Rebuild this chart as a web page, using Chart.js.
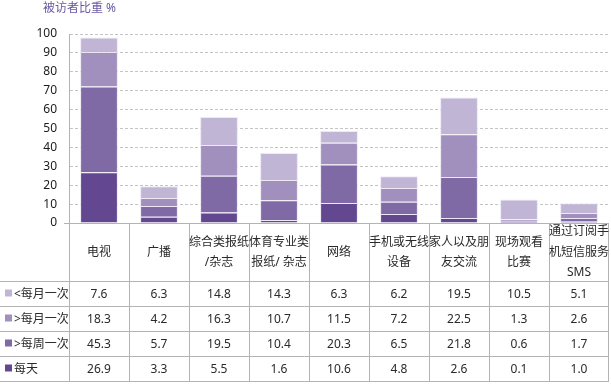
<!DOCTYPE html>
<html>
<head>
<meta charset="utf-8">
<script src="https://cdn.jsdelivr.net/npm/chart.js@4"></script>
<style>
  body { margin: 0; background: #fff; }
  canvas { display: block; }
</style>
</head>
<body>
<canvas id="grafico" width="611" height="384"></canvas>
<script>
// categorias (cada una con sus lineas del encabezado de la tabla)
const categorias = [
    ['电视'],
    ['广播'],
    ['综合类报纸', '/杂志'],
    ['体育专业类', '报纸/ 杂志'],
    ['网络'],
    ['手机或无线', '设备'],
    ['家人以及朋', '友交流'],
    ['现场观看', '比赛'],
    ['通过订阅手', '机短信服务', 'SMS']
];

// series, de abajo hacia arriba en la pila
const nombres = ['每天', '>每周一次', '>每月一次', '<每月一次'];
const cadaDia = [26.9, 3.3, 5.5, 1.6, 10.6, 4.8, 2.6, 0.1, 1.0];
const masSemana = [45.3, 5.7, 19.5, 10.4, 20.3, 6.5, 21.8, 0.6, 1.7];
const masMes = [18.3, 4.2, 16.3, 10.7, 11.5, 7.2, 22.5, 1.3, 2.6];
const menosMes = [7.6, 6.3, 14.8, 14.3, 6.3, 6.2, 19.5, 10.5, 5.1];
const colores = ['#634891', '#7f6aa6', '#a190be', '#c1b5d6'];

const yTicks = [0, 10, 20, 30, 40, 50, 60, 70, 80, 90, 100];
const tituloY = '被访者比重 %';

const fuente = '"Noto Sans", "Noto Sans CJK SC", sans-serif';
const colorLinea = '#b3b3b3';

const series = [cadaDia, masSemana, masMes, menosMes];

// dibuja la tabla de datos debajo del grafico usando la escala x
const tablaPlugin = {
    id: 'tabla',
    afterDraw(chart) {
        const ctx = chart.ctx;
        const x = chart.scales.x;
        const area = chart.chartArea;
        const paso = x.getPixelForValue(1) - x.getPixelForValue(0);
        const top = area.bottom;
        const altoCab = 59;
        const altoFila = 25;
        const bottom = top + altoCab + altoFila * nombres.length;

        ctx.save();
        // titulo del eje
        ctx.fillStyle = '#6b58a3';
        ctx.font = '12px ' + fuente;
        ctx.textAlign = 'left';
        ctx.textBaseline = 'middle';
        ctx.fillText(tituloY, 43, 9);

        ctx.strokeStyle = colorLinea;
        ctx.lineWidth = 1;
        // linea del eje
        ctx.beginPath();
        ctx.moveTo(64, Math.round(top) + 0.5);
        ctx.lineTo(area.right, Math.round(top) + 0.5);
        ctx.stroke();

        // lineas verticales
        ctx.beginPath();
        categorias.forEach((c, i) => {
            const xi = Math.round(x.getPixelForValue(i) - paso / 2) + 0.5;
            ctx.moveTo(xi, top);
            ctx.lineTo(xi, bottom);
        });
        const xr = Math.round(x.getPixelForValue(categorias.length - 1) + paso / 2) - 0.5;
        ctx.moveTo(xr, top);
        ctx.lineTo(xr, bottom);
        // lineas horizontales
        for (let r = 0; r <= nombres.length; r++) {
            const y = Math.round(top + altoCab + r * altoFila) - 0.5;
            ctx.moveTo(0, y);
            ctx.lineTo(xr, y);
        }
        ctx.stroke();

        // encabezados
        ctx.fillStyle = '#2a2a2a';
        ctx.font = '12px ' + fuente;
        ctx.textAlign = 'center';
        const centroCab = top + altoCab / 2;
        categorias.forEach((lineas, i) => {
            const cx = x.getPixelForValue(i);
            const y0 = centroCab - (lineas.length - 1) * 20.5 / 2;
            lineas.forEach((l, k) => ctx.fillText(l, cx, y0 + k * 20.5));
        });

        // filas: de la serie superior a la inferior
        for (let r = 0; r < nombres.length; r++) {
            const s = nombres.length - 1 - r;
            const cy = top + altoCab + r * altoFila + altoFila / 2;
            ctx.fillStyle = colores[s];
            ctx.fillRect(5, cy - 5, 7, 7);
            ctx.fillStyle = '#2a2a2a';
            ctx.textAlign = 'left';
            ctx.fillText(nombres[s], 14, cy);
            ctx.textAlign = 'center';
            series[s].forEach((v, i) => {
                ctx.fillText(v.toFixed(1), x.getPixelForValue(i), cy);
            });
        }
        ctx.restore();
    }
};

new Chart(document.getElementById('grafico').getContext('2d'), {
    type: 'bar',
    data: {
        labels: categorias,
        datasets: series.map((d, i) => ({
            label: nombres[i],
            data: d,
            backgroundColor: colores[i],
            borderColor: 'rgba(235, 230, 243, 0.9)',
            borderWidth: 1,
            barPercentage: 0.63,
            categoryPercentage: 1
        }))
    },
    options: {
        responsive: false,
        animation: false,
        layout: { padding: { top: 34, right: 2, bottom: 161, left: 0 } },
        plugins: {
            legend: { display: false },
            tooltip: { enabled: false }
        },
        scales: {
            x: {
                stacked: true,
                grid: { display: false },
                border: { display: false },
                ticks: { display: false },
                afterFit: s => { s.height = 0; }
            },
            y: {
                stacked: true,
                min: 0,
                max: 100,
                afterBuildTicks: s => { s.ticks = yTicks.map(v => ({ value: v })); },
                afterFit: s => { s.width = 69; },
                grid: {
                    color: '#c4c4c4',
                    drawTicks: false
                },
                border: { color: colorLinea, dash: [3, 2] },
                ticks: {
                    padding: 12,
                    color: '#1a1a1a',
                    font: { family: fuente, size: 12 }
                }
            }
        }
    },
    plugins: [tablaPlugin]
});
</script>
</body>
</html>
